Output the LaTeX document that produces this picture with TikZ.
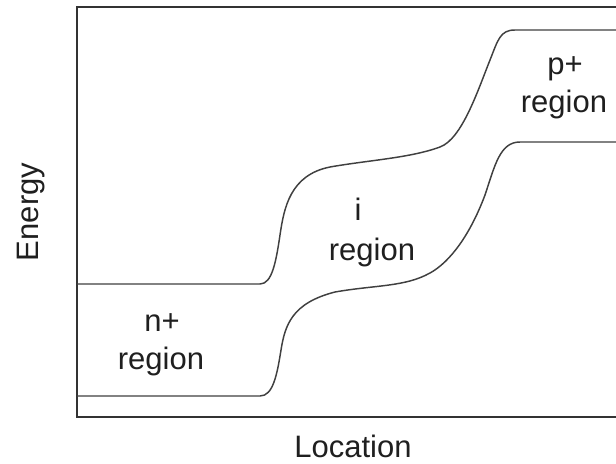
\documentclass[tikz,border=0pt]{standalone}
\usepackage{fontspec}
\setmainfont{Liberation Sans}
\begin{document}
\begin{tikzpicture}[x=0.75pt,y=-0.75pt,
  lbl/.style={inner sep=0pt,anchor=base,text=black!88,font=\fontsize{23.25pt}{30pt}\selectfont},
  frame/.style={draw=black!80,line width=1.5pt},
  band/.style={draw=black!75,line width=1.1pt}]
\clip (0,0) rectangle (616,463);
\fill[white] (0,0) rectangle (616,463);
% axes frame
\draw[frame] (630,7) -- (77,7) -- (77,417) -- (630,417);
% upper band edge
\draw[band] (77,284) -- (260,284)
  .. controls (272,284) and (276,262) .. (280,235)
  .. controls (284,208) and (290,175) .. (330,167)
  .. controls (370,160) and (410,158) .. (440,147)
  .. controls (462,139) and (478,90) .. (490,60)
  .. controls (498,40) and (500,30) .. (515,30) -- (630,30);
% lower band edge
\draw[band] (77,396) -- (260,396)
  .. controls (273,396) and (277,375) .. (281,350)
  .. controls (285,325) and (292,303) .. (335,292)
  .. controls (375,285) and (405,287) .. (430,273)
  .. controls (450,262) and (470,235) .. (485,195)
  .. controls (495,165) and (500,142) .. (520,142) -- (630,142);
% labels
\node[lbl] (n1) at (162,331) {n+};
\node[lbl] (n2) at (161,369) {region};
\node[lbl] (i1) at (358,220) {i};
\node[lbl] (i2) at (372,260) {region};
\node[lbl] (p1) at (565,75) {p+};
\node[lbl] (p2) at (564,113) {region};
\node[lbl] (xl) at (353,457) {Location};
\node[lbl,rotate=90] (yl) at (38,212) {Energy};
\end{tikzpicture}
\end{document}
